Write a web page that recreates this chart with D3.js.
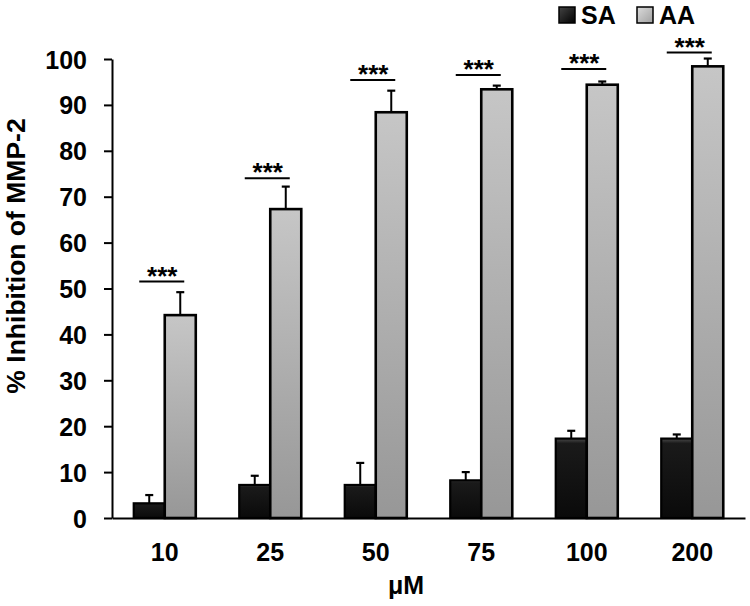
<!DOCTYPE html>
<html><head><meta charset="utf-8">
<script src="https://cdn.jsdelivr.net/npm/d3@7"></script>
<style>body{margin:0;background:#fff}svg text{font-family:"Liberation Sans",Arial,sans-serif;font-weight:bold;fill:#000}</style>
</head><body><div id="chart"></div>
<script>
const categories = ["10","25","50","75","100","200"];
const seriesNames = ["SA","AA"];
const saValues = [3.2, 7.2, 7.2, 8.2, 17.3, 17.3];
const saErrors = [1.8, 2.0, 4.8, 1.8, 1.7, 0.9];
const aaValues = [44.2, 67.3, 88.4, 93.4, 94.4, 98.4];
const aaErrors = [5.0, 4.9, 4.7, 0.8, 0.7, 1.7];
const sigLevels = [51.5, 74, 95.4, 96.5, 97.8, 101.4];
const sigLabels = ["***","***","***","***","***","***"];
const yTicks = [0,10,20,30,40,50,60,70,80,90,100];

const W = 750, H = 606;
const svg = d3.select("#chart").append("svg").attr("width", W).attr("height", H);
const defs = svg.append("defs");
const gSA = defs.append("linearGradient").attr("id","gSA").attr("x1",0).attr("y1",0).attr("x2",0).attr("y2",1);
gSA.append("stop").attr("offset","0%").attr("stop-color","#4a4a4a");
gSA.append("stop").attr("offset","6%").attr("stop-color","#1a1a1a");
gSA.append("stop").attr("offset","100%").attr("stop-color","#0a0a0a");
const gAA = defs.append("linearGradient").attr("id","gAA").attr("x1",0).attr("y1",0).attr("x2",0).attr("y2",1);
gAA.append("stop").attr("offset","0%").attr("stop-color","#c6c6c6");
gAA.append("stop").attr("offset","100%").attr("stop-color","#979797");
const gLA = defs.append("linearGradient").attr("id","gLA").attr("x1",0).attr("y1",0).attr("x2",1).attr("y2",1);
gLA.append("stop").attr("offset","0%").attr("stop-color","#dcdcdc");
gLA.append("stop").attr("offset","100%").attr("stop-color","#a0a0a0");
const gLS = defs.append("linearGradient").attr("id","gLS").attr("x1",0).attr("y1",0).attr("x2",1).attr("y2",1);
gLS.append("stop").attr("offset","0%").attr("stop-color","#444");
gLS.append("stop").attr("offset","100%").attr("stop-color","#000");

const x0 = 112, x1 = 745, yTop = 59, yBot = 518;
const x = d3.scaleBand().domain(categories).range([x0, x1]).paddingInner(0).paddingOuter(0);
const y = d3.scaleLinear().domain([0, 100]).range([yBot, yTop]);
const bw = x.bandwidth() * 0.294;

const data = categories.map((c,i)=>({c, sa:saValues[i], saE:saErrors[i], aa:aaValues[i], aaE:aaErrors[i], sig:sigLevels[i], lab:sigLabels[i]}));
const g = svg.append("g");
const cx = d => x(d.c) + x.bandwidth()/2;

function errBars(key, eKey, off){
  g.selectAll(null).data(data).enter().append("line")
    .attr("x1", d=>cx(d)+off).attr("x2", d=>cx(d)+off)
    .attr("y1", d=>y(d[key])).attr("y2", d=>y(d[key]+d[eKey]))
    .attr("stroke","#000").attr("stroke-width",2);
  g.selectAll(null).data(data).enter().append("line")
    .attr("x1", d=>cx(d)+off-4).attr("x2", d=>cx(d)+off+4)
    .attr("y1", d=>y(d[key]+d[eKey])).attr("y2", d=>y(d[key]+d[eKey]))
    .attr("stroke","#000").attr("stroke-width",2.2);
}
errBars("sa","saE",-bw/2);
errBars("aa","aaE",bw/2);

g.selectAll(".sa").data(data).enter().append("rect")
  .attr("x", d=>cx(d)-bw).attr("width", bw)
  .attr("y", d=>y(d.sa)).attr("height", d=>yBot-y(d.sa))
  .attr("fill","url(#gSA)").attr("stroke","#000").attr("stroke-width",2.2);
g.selectAll(".aa").data(data).enter().append("rect")
  .attr("x", d=>cx(d)).attr("width", bw)
  .attr("y", d=>y(d.aa)).attr("height", d=>yBot-y(d.aa))
  .attr("fill","url(#gAA)").attr("stroke","#000").attr("stroke-width",2.6);

g.selectAll(null).data(data).enter().append("line")
  .attr("x1", d=>cx(d)-3-22.5).attr("x2", d=>cx(d)-3+22.5)
  .attr("y1", d=>y(d.sig)).attr("y2", d=>y(d.sig))
  .attr("stroke","#000").attr("stroke-width",2);
g.selectAll(null).data(data).enter().append("text")
  .attr("x", d=>cx(d)-2.5).attr("y", d=>y(d.sig)+3)
  .attr("text-anchor","middle").style("font-size","26px").text(d=>d.lab);

const yAxis = svg.append("g").attr("transform",`translate(${x0},0)`)
  .call(d3.axisLeft(y).tickValues(yTicks).tickSize(8).tickPadding(17).tickSizeOuter(0));
yAxis.select(".domain").attr("stroke","#000").attr("stroke-width",2);
yAxis.selectAll(".tick line").attr("stroke","#000").attr("stroke-width",2);
yAxis.selectAll(".tick text").style("font-size","25px").attr("dy","0.36em");

const xAxis = svg.append("g").attr("transform",`translate(0,${yBot})`)
  .call(d3.axisBottom(x).tickSize(0).tickPadding(25).tickSizeOuter(0));
xAxis.select(".domain").attr("stroke","#000").attr("stroke-width",2);
xAxis.selectAll(".tick text").style("font-size","25px").attr("dy","0.71em");

svg.append("text").attr("x",406).attr("y",594).attr("text-anchor","middle").style("font-size","25px").text("μM");
svg.append("text").attr("transform","translate(25,256) rotate(-90)").attr("text-anchor","middle").style("font-size","26.5px").text("% Inhibition of MMP-2");

const leg = svg.append("g");
const legX = [559, 637];
const legFill = ["url(#gLS)","url(#gLA)"];
seriesNames.forEach((s,i)=>{
  leg.append("rect").attr("x",legX[i]).attr("y",7).attr("width",16).attr("height",16)
    .attr("fill",legFill[i]).attr("stroke","#000").attr("stroke-width",1.5);
  leg.append("text").attr("x",legX[i]+22).attr("y",24).style("font-size","25px").text(s);
});
</script></body></html>
